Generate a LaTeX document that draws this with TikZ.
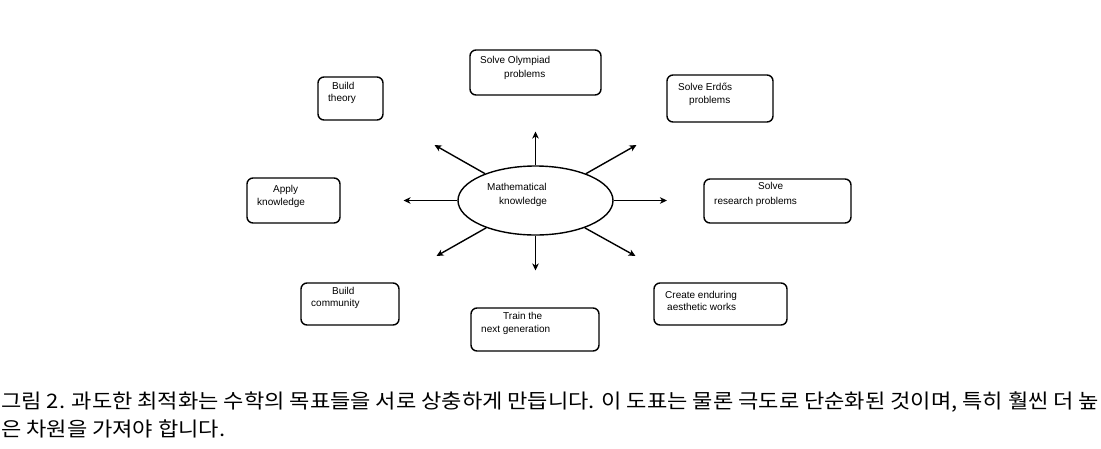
\documentclass[tikz,border=0pt]{standalone}
\usepackage{fontspec}
\usepackage{graphicx}
\setmainfont{Liberation Sans}
\newfontfamily\cjk{Noto Sans CJK KR}
\usetikzlibrary{arrows.meta,shapes.geometric}
\newsavebox\mycapbox
\begin{document}
\sbox\mycapbox{\cjk\fontsize{20}{24}\selectfont 그림 2. 과도한 최적화는 수학의 목표들을 서로 상충하게 만듭니다. 이 도표는 물론 극도로 단순화된 것이며, 특히 훨씬 더 높}%
\pgfmathsetmacro\capsc{1098/\wd\mycapbox}%
\begin{tikzpicture}[x=1pt,y=-1pt,
  goalbox/.style={draw, line width=1.4pt, rounded corners=6pt, inner sep=0pt, rectangle},
  lbl/.style={anchor=base west, inner sep=0pt, font=\fontsize{10}{12}\selectfont},
  arr/.style={line width=1.4pt, -{Stealth[length=7pt,width=6.5pt,inset=2pt]}},
  captext/.style={anchor=base west, inner sep=0pt}]
\useasboundingbox (0,0) rectangle (1101,448);
\fill[white] (0,0) rectangle (1101,448);
% central ellipse
\node[draw, ellipse, line width=1.4pt, minimum width=155pt, minimum height=69pt, inner sep=0pt] (m) at (535.5,200.5) {};
\node[lbl] (mA) at (487,190) {Mathematical};
\node[lbl] (mB) at (499,204.5) {knowledge};
% goal boxes
\node[goalbox, minimum width=65pt, minimum height=43pt] (theory) at (350.5,98.5) {};
\node[lbl] (theoryA) at (332,89.5) {Build};
\node[lbl] (theoryB) at (328,101.5) {theory};
\node[goalbox, minimum width=131pt, minimum height=45pt] (olymp) at (535.5,72.5) {};
\node[lbl] (olympA) at (480,63) {Solve Olympiad};
\node[lbl] (olympB) at (504,77) {problems};
\node[goalbox, minimum width=106pt, minimum height=47pt] (erdos) at (720,98.5) {};
\node[lbl] (erdosA) at (678,90.5) {Solve Erdős};
\node[lbl] (erdosB) at (689,103.5) {problems};
\node[goalbox, minimum width=93pt, minimum height=45pt] (apply) at (293.5,200.5) {};
\node[lbl] (applyA) at (273,192.5) {Apply};
\node[lbl] (applyB) at (257,205.5) {knowledge};
\node[goalbox, minimum width=147pt, minimum height=44pt] (research) at (777.5,201) {};
\node[lbl] (researchA) at (758,189.5) {Solve};
\node[lbl] (researchB) at (714,204.5) {research problems};
\node[goalbox, minimum width=98pt, minimum height=42pt] (community) at (350,304) {};
\node[lbl] (communityA) at (332,294.5) {Build};
\node[lbl] (communityB) at (311,306.5) {community};
\node[goalbox, minimum width=128pt, minimum height=43pt] (train) at (535,329.5) {};
\node[lbl] (trainA) at (503,319.5) {Train the};
\node[lbl] (trainB) at (481,332.5) {next generation};
\node[goalbox, minimum width=133pt, minimum height=42pt] (create) at (720.5,304) {};
\node[lbl] (createA) at (665,298.5) {Create enduring};
\node[lbl] (createB) at (667,310) {aesthetic works};
% arrow tips
\coordinate (tU) at (535.5,131.5);
\coordinate (tD) at (535.5,270.5);
\coordinate (tL) at (403.5,200.5);
\coordinate (tR) at (667,200.5);
\coordinate (tUL) at (434.5,145);
\coordinate (tUR) at (636.5,145);
\coordinate (tDL) at (436.5,256);
\coordinate (tDR) at (635.5,256);
\draw[arr] (m.90) -- (tU);
\draw[arr] (m.270) -- (tD);
\draw[arr] (m.180) -- (tL);
\draw[arr] (m.0) -- (tR);
\draw[arr] (m.152) -- (tUL);
\draw[arr] (m.28) -- (tUR);
\draw[arr] (m.209) -- (tDL);
\draw[arr] (m.331) -- (tDR);
% caption
\node[captext] (capA) at (1,408) {\scalebox{\capsc}[1]{\usebox\mycapbox}};
\node[captext] (capB) at (1,436) {\scalebox{\capsc}[1]{\cjk\fontsize{20}{24}\selectfont 은 차원을 가져야 합니다.}};
\end{tikzpicture}
\end{document}
